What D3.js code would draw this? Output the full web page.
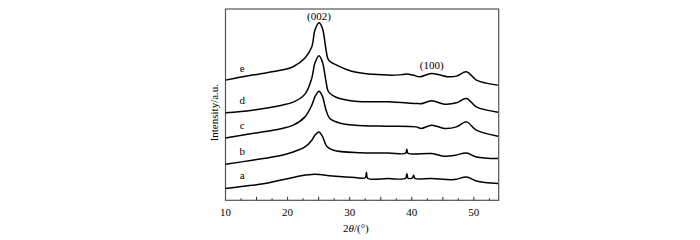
<!DOCTYPE html>
<html>
<head>
<meta charset="utf-8">
<script src="https://cdn.jsdelivr.net/npm/d3@7"></script>
<style>
  body { margin: 0; background: #fff; }
  text { font-family: "Liberation Serif", "DejaVu Serif", serif; }
</style>
</head>
<body>
<div id="chart"></div>
<script>
// XRD patterns, 2theta (deg) vs intensity (arbitrary, stacked)
var twoTheta_e = [10, 14.3, 19.1, 20.9, 22.8, 23.9, 24.4, 25.06, 25.6, 26.2, 26.6, 27.9, 30.85, 36.2, 38.5, 39.2, 40.2, 41.3, 43.2, 45.9, 47.2, 48.8, 50.4, 52, 53.9];
var int_e     = [120, 125, 130, 133.3, 142, 153.3, 170, 177.3, 172, 150, 140, 135, 128, 125, 125.5, 126, 125, 123.3, 126.7, 123.3, 124, 128.3, 120, 117, 115];

var twoTheta_d = [10, 14.3, 19.1, 20.9, 22.8, 23.9, 24.4, 25.06, 25.6, 26.2, 26.6, 27.9, 30.85, 36.2, 40.7, 41.5, 43.2, 45.3, 47.2, 48.8, 50.4, 53.9];
var int_d     = [87.3, 90, 95, 98, 106, 122, 137, 144.3, 138.3, 118.3, 108.3, 102.7, 99, 98.3, 96.7, 96.5, 99.3, 96, 97.3, 101.7, 93.3, 88];

var twoTheta_c = [10, 14.3, 19.1, 20.9, 22.8, 23.9, 24.4, 25.06, 25.6, 26.2, 26.8, 28.5, 30.85, 36.2, 40.7, 41.5, 43.2, 45.3, 47.2, 48.8, 50.4, 53.9];
var int_c     = [62.3, 66.7, 71.7, 75, 83.3, 95, 103.3, 109, 104, 90, 81.7, 77, 75, 74, 73.3, 71.7, 75, 71.7, 73.3, 78.3, 70, 64];

var twoTheta_b = [10, 14.3, 19.1, 20.9, 22.8, 23.9, 24.4, 25.06, 25.6, 26.3, 27.4, 31.7, 36.2, 39.0, 39.2, 39.4, 43.2, 45.3, 47, 48.8, 50.4, 53.9];
var int_b     = [36, 40, 45, 48.3, 53.3, 60, 65, 68.3, 64, 54, 50, 47.5, 47.3, 47, 51, 47, 46.7, 44, 45, 47.3, 43.3, 41.7];

var twoTheta_a = [10, 14.3, 17, 19.1, 20.4, 22.2, 24.4, 27.2, 30.85, 32.5, 32.7, 32.9, 36.2, 39.0, 39.2, 39.4, 40.1, 40.3, 40.5, 43.2, 46.9, 48.8, 50.4, 53.9];
var int_a     = [11.7, 15, 17.5, 20.5, 22, 24.5, 26, 24.3, 22.7, 22.5, 28, 22, 21.7, 22, 26.5, 22, 22.5, 25, 22, 21.7, 20.7, 23.3, 19.3, 16.7];

var sampleNames = ["a", "b", "c", "d", "e"];
var sampleLabelAt = [25, 49.3, 75, 100, 132];   // intensity level where each letter sits
var xTicks = [10, 20, 30, 40, 50];
var peakNames = ["(002)", "(100)"];
var peakPos = [25.06, 43.2];
var peakLabelAt = [184, 135];

var series = [
  { name: "a", x: twoTheta_a, y: int_a },
  { name: "b", x: twoTheta_b, y: int_b },
  { name: "c", x: twoTheta_c, y: int_c },
  { name: "d", x: twoTheta_d, y: int_d },
  { name: "e", x: twoTheta_e, y: int_e }
];

var margin = { top: 9, right: 201.3, bottom: 39.7, left: 225.5 };
var width = 700 - margin.left - margin.right,
    height = 240 - margin.top - margin.bottom;

var svg = d3.select("#chart")
  .append("svg")
  .attr("width", 700)
  .attr("height", 240)
  .append("g")
  .attr("transform", "translate(" + margin.left + "," + margin.top + ")");

var x = d3.scaleLinear().domain([10, 54]).range([0, width]);
var y = d3.scaleLinear().domain([0, 191]).range([height, 0]);

// frame
svg.append("rect")
  .attr("x", 0).attr("y", 0)
  .attr("width", width).attr("height", height)
  .attr("fill", "none")
  .attr("stroke", "#555")
  .attr("stroke-width", 1.2);

// ticks, inward, every 2.5 deg
var tickVals = d3.range(12.5, 54, 2.5);
svg.selectAll(".tk")
  .data(tickVals)
  .enter()
  .append("line")
  .attr("class", "tk")
  .attr("x1", function(d) { return x(d); })
  .attr("x2", function(d) { return x(d); })
  .attr("y1", height)
  .attr("y2", function(d) { return height - (d % 5 === 0 ? 3.5 : 2); })
  .attr("stroke", "#333")
  .attr("stroke-width", 1);

svg.selectAll(".tl")
  .data(xTicks)
  .enter()
  .append("text")
  .attr("class", "tl")
  .attr("x", function(d) { return x(d); })
  .attr("y", height + 16)
  .attr("text-anchor", "middle")
  .attr("font-size", 11)
  .text(function(d) { return d; });

// axis titles
var xt = svg.append("text")
  .attr("x", x(31))
  .attr("y", height + 32)
  .attr("text-anchor", "middle")
  .attr("font-size", 11);
xt.append("tspan").text("2");
xt.append("tspan").attr("font-style", "italic").text("θ");
xt.append("tspan").text("/(°)");

svg.append("text")
  .attr("transform", "translate(-8," + (height / 2 + 8) + ") rotate(-90)")
  .attr("text-anchor", "middle")
  .attr("font-size", 11)
  .text("Intensity/a.u.");

// curves
var line = d3.line()
  .x(function(d) { return x(d[0]); })
  .y(function(d) { return y(d[1]); })
  .curve(d3.curveCatmullRom.alpha(0.5));

svg.selectAll(".curve")
  .data(series)
  .enter()
  .append("path")
  .attr("class", "curve")
  .attr("d", function(s) { return line(d3.zip(s.x, s.y)); })
  .attr("fill", "none")
  .attr("stroke", "#000")
  .attr("stroke-width", 1.5);

// sample letters
svg.selectAll(".sl")
  .data(sampleNames)
  .enter()
  .append("text")
  .attr("class", "sl")
  .attr("x", x(12.7))
  .attr("y", function(d, i) { return y(sampleLabelAt[i]) + 4; })
  .attr("text-anchor", "middle")
  .attr("font-size", 11)
  .text(function(d) { return d; });

// peak labels
svg.selectAll(".pl")
  .data(peakNames)
  .enter()
  .append("text")
  .attr("class", "pl")
  .attr("x", function(d, i) { return x(peakPos[i]); })
  .attr("y", function(d, i) { return y(peakLabelAt[i]) + 4; })
  .attr("text-anchor", "middle")
  .attr("font-size", 11)
  .text(function(d) { return d; });
</script>
</body>
</html>
